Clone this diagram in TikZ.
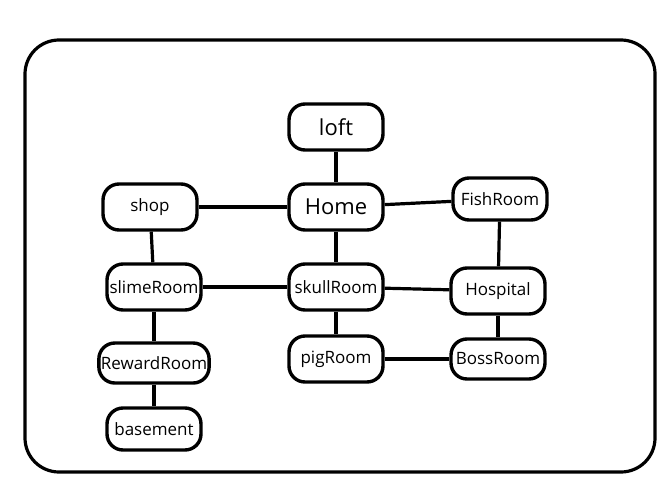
\documentclass[tikz,border=0pt]{standalone}
\usepackage{fontspec}
\setmainfont{Open Sans}

\tikzstyle{room} = [align=center, rectangle, draw, fill=white, text centered, rounded corners=8pt, line width=1.7pt, minimum width=47pt, minimum height=23pt, inner sep=1pt, font=\fontsize{8.5}{10}\selectfont]
\tikzstyle{bigroom} = [room, font=\fontsize{11}{13}\selectfont]

\begin{document}
\begin{tikzpicture}[x=0.5pt, y=-0.5pt, line width=1.6pt]
\useasboundingbox (0,0) rectangle (668,492);
\draw [rounded corners=17pt] (25,40) rectangle (655,472);

\node [bigroom] (loft) at (336,127) {loft};
\node [bigroom, below of=loft, node distance=40pt] (home) {Home};
\node [room, below of=home, node distance=40pt] (skull) {skullRoom};
\node [room, below of=skull, node distance=36pt] (pig) {pigRoom};
\node [room, left of=home, node distance=93pt] (shop) {shop};
\node [room, left of=skull, node distance=91pt] (slime) {slimeRoom};
\node [room, below of=slime, node distance=38pt, minimum height=20pt] (reward) {RewardRoom};
\node [room, below of=reward, node distance=33pt, minimum height=21pt] (basement) {basement};
\node [room, right of=home, node distance=82pt, minimum height=21pt, yshift=4pt] (fish) {FishRoom};
\node [room, right of=skull, node distance=81pt, yshift=-2pt] (hospital) {Hospital};
\node [room, right of=pig, node distance=81pt, minimum height=20pt] (boss) {BossRoom};

\draw (loft) -- (home);
\draw (home) -- (skull);
\draw (skull) -- (pig);
\draw (shop) -- (home);
\draw (home) -- (fish);
\draw (shop) -- (slime);
\draw (slime) -- (reward);
\draw (reward) -- (basement);
\draw (slime) -- (skull);
\draw (skull) -- (hospital);
\draw (fish) -- (hospital);
\draw (hospital) -- (boss);
\draw (pig) -- (boss);
\end{tikzpicture}
\end{document}
